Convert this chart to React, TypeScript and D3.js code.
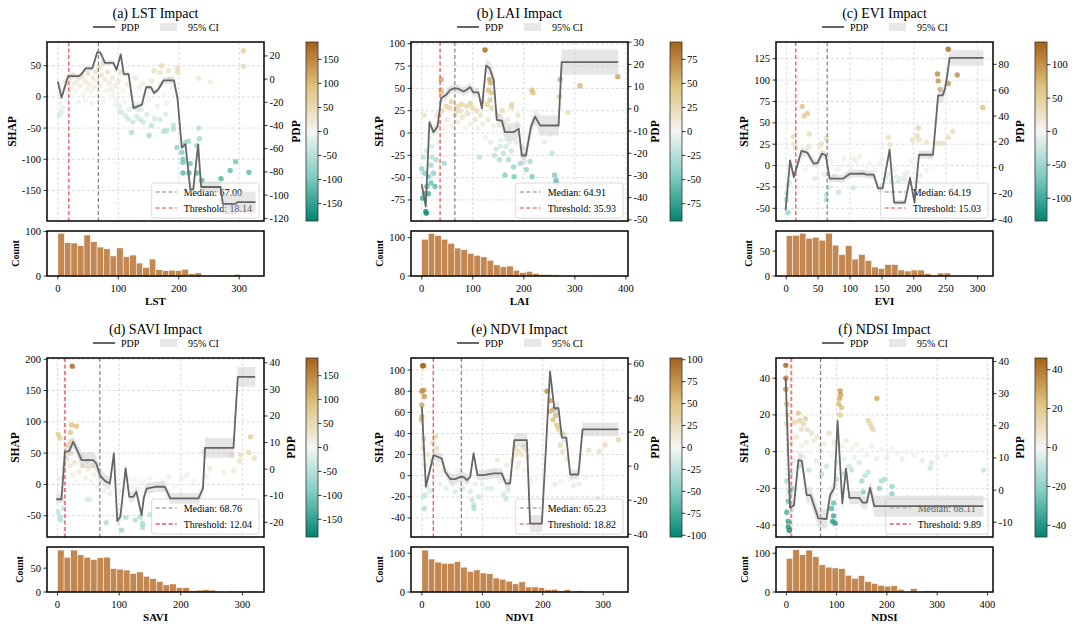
import React from "react";
import * as d3 from "d3";

const FONT = "'Liberation Serif','Times New Roman',Times,serif";
const BRBG = ["#018571", "#80cdc1", "#f5f5f5", "#dfc27d", "#a6611a"];

// ---------------- (a) LST ----------------
const aPdpX = [0, 6, 17, 35, 39, 46, 57, 65, 70, 78, 92, 97, 104, 109, 117, 125, 139, 146, 154, 159, 166, 175, 192, 198, 205, 211, 219, 224, 232, 237, 269, 273, 294, 297, 327];
const aPdpY = [-2, -16, 2.6, 2.6, 4.3, 9.3, 9.3, 23, 23, 14, 14, 8, 21.4, 4.3, 4.3, -25, -22, -7, -7, -12, -9, -1, -1, -17, -59, -56, -95, -95, -56.5, -93, -93, -107.5, -107.5, -106, -106];
const aPdpCI = [2, 2, 2, 2, 2, 2, 2, 2, 2, 2, 2, 2, 2, 2, 2, 2, 2, 2, 2, 2, 2, 3, 3, 3, 3, 3, 3, 3, 4, 5, 5, 9, 9, 9, 9];
const aHist = [96, 75, 74, 68, 92, 77, 65, 61, 45, 63, 43, 47, 29, 19, 38, 14, 12, 13, 12, 15, 5, 7, 0, 0, 1, 2, 0, 4, 0, 0];
const aPoints = [
  [307, 74], [307, 49], [172, 50], [169, 39], [159, 42], [183, 42], [198, 46], [198, 40], [233, 30], [252, 24], [233, -50], [234, -67], [230, -78], [216, -71], [211, -73], [197, -81], [205, -89], [207, -100], [207, -105], [207, -122], [217, -122], [219, -107], [230, -122], [238, -134], [270, -131], [285, -118], [294, -104], [316, -121], [122, -57], [151, -62], [160, -35], [169, -36], [180, -54], [191, -46], [178, -28], [155, -46], [191, -52], [175, -55], [130, -31], [136, -36], [141, -40], [147, -28], [102, -23], [293, 0],
  [0, 5], [3, -10], [5, -25], [8, -18], [10, 12], [12, 25], [15, 20], [18, 8], [20, 30], [22, 15], [25, 35], [28, 22], [30, 10], [33, 28], [36, 18], [40, 32], [42, 5], [45, 25], [48, 12], [50, 38], [52, 20], [55, 8], [58, 30], [60, 15], [62, 40], [65, 25], [68, 48], [70, 18], [72, 35], [75, 55], [78, 28], [80, 10], [82, 40], [85, 22], [88, 12], [90, 30], [92, 5], [95, 18], [97, -5], [100, 25], [102, -15], [104, 40], [106, -25], [108, 10], [110, -8], [112, -30], [115, 20], [118, -20], [120, 5], [125, -15], [128, 30], [130, -10], [135, 15], [138, -20], [140, 22], [145, 5], [150, -5], [155, 25], [160, 10], [165, -15], [170, 20], [175, 5], [180, -10], [185, 28], [190, 15], [195, 5], [210, 0], [2, -30], [6, 0], [14, -5], [24, 0], [34, -8], [46, -5], [56, -10], [66, -3], [76, -8], [86, 0], [96, -12], [116, -35], [124, -40], [132, -20], [142, -10],
];

// ---------------- (b) LAI ----------------
const bPdpX = [0, 8, 15, 23, 31, 38, 48, 56, 65, 72, 82, 88, 95, 101, 111, 118, 126, 133, 141, 147, 157, 163, 180, 190, 196, 204, 214, 222, 232, 268, 274, 385];
const bPdpY = [-34, -44, -6, -10.5, -8, 4.8, 6.3, 8.6, 9.3, 9, 7.8, 8.6, 9.8, 7.4, 7.4, 0.3, 19.5, 18.3, 13, -5, -5.3, -10.5, -10.5, -9, -21, -21, -8, -3.5, -7.5, -7.5, 21, 21];
const bPdpCI = [2, 2, 2, 2, 2, 2, 2, 2, 2, 2, 2, 2, 2, 2, 2, 2, 3, 3, 3, 3, 3, 4, 4, 4, 4, 4, 3, 3, 4.5, 4.5, 5.7, 5.7];
const bHist = [96, 111, 106, 96, 85, 73, 69, 59, 54, 50, 41, 29, 24, 26, 15, 9, 12, 7, 4, 4, 3, 0, 0, 0, 0, 0, 0, 0, 0, 1];
const bPoints = [
  [124, 93], [38, 60], [38, 48], [38, 45], [133, 60], [135, 56], [131, 48], [137, 45], [134, 37], [128, 32], [137, 28], [216, 48], [218, 45], [271, 60], [270, 41], [310, 53], [286, 23], [384, 63], [176, 32], [176, 29], [78, 32], [95, 33], [69, 30],
  [8, -88], [9, -90], [2, -73], [6, -68], [13, -68], [10, -60], [18, -56], [23, -45], [18, -36], [26, -60], [3, -27], [0, -40], [6, -45], [13, -49], [20, -27], [44, -34], [163, -47], [181, -49], [216, -49], [205, -41], [212, -32], [193, -34], [180, -38], [170, -30], [160, -23], [154, -15], [260, -47], [263, -53], [263, -56], [255, -23], [113, -27],
  [30, 20], [35, 10], [40, 25], [45, 5], [50, 15], [55, 28], [60, 8], [65, 20], [70, 12], [75, 25], [80, 18], [85, 5], [90, 22], [95, 10], [100, 28], [105, 15], [110, 5], [115, 20], [120, 10], [125, -5], [130, 15], [135, -10], [140, 8], [145, -18], [150, 0], [155, -8], [160, 12], [165, -15], [170, 5], [175, -20], [180, 0], [185, -10], [190, 8], [195, -15], [200, 2], [210, -5], [230, 0], [250, -2], [20, -15], [25, 5], [15, -5], [10, -20], [5, 20], [28, -30], [35, -10], [48, 30], [58, 35], [68, 25], [88, 30], [108, 25], [118, 35], [148, 20], [158, 25], [168, 15], [188, 20], [142, -25], [152, -30], [172, -10], [198, -25], [220, 10], [240, -10],
];

// ---------------- (c) EVI ----------------
const cPdpX = [-1, 6, 12, 24, 33, 43, 49, 56, 62, 68, 89, 100, 121, 126, 137, 144, 151, 162, 169, 186, 194, 201, 208, 230, 238, 245, 249, 252, 256, 309];
const cPdpY = [-33, 5.7, -7.3, 13, 11.7, 3.1, 3.6, 10.9, 9.6, -8.5, -8.5, -4.7, -4.7, -5.4, -5.4, -16, -16, 14, -27, -27, -8, -27, 10, 10, 56, 56, 61.4, 70.5, 85, 85];
const cPdpCI = [3, 3, 3, 3, 3, 3, 3, 3, 3, 3, 3, 3, 3, 3, 3, 3, 3, 3, 2, 2, 3, 3, 3, 3, 6, 6, 5, 5, 6, 6];
const cHist = [81, 82, 86, 76, 78, 72, 86, 62, 43, 61, 34, 43, 31, 18, 15, 23, 23, 12, 10, 12, 12, 5, 0, 6, 6, 0, 0, 0, 0, 1];
const cPoints = [
  [254, 136], [237, 107], [238, 99], [241, 89], [254, 96], [268, 106], [308, 68], [25, 69], [28, 58], [33, 61], [36, 37], [11, 34], [12, 25], [207, 44], [205, 35], [208, 30], [198, 30], [220, 27], [236, 26], [241, 26], [247, 26], [254, 33], [261, 40], [160, 33], [163, 25], [53, 23], [63, 32], [55, 26],
  [3, -55], [0, -40], [1, -32], [2, -24], [63, -40], [63, -34], [66, -26], [82, -31], [105, -26], [173, -14], [186, -16],
  [10, -10], [20, 5], [30, -5], [40, 10], [50, 0], [60, -10], [70, 5], [80, -5], [90, 8], [100, -3], [110, 5], [120, -8], [130, 3], [140, -5], [150, 8], [160, -10], [170, -5], [180, -15], [190, -8], [200, 0], [210, -12], [220, -5], [15, 20], [35, 22], [45, -15], [55, 15], [75, -12], [95, -10], [115, 10], [135, -12], [155, -15], [175, -20], [195, 5], [225, 10], [230, -2], [5, -20], [25, 12], [65, 12], [85, -2], [105, 8], [125, -2], [145, 2], [165, -18], [185, -10], [205, -20],
];

// ---------------- (d) SAVI ----------------
const dPdpX = [-2, 6.5, 12, 19, 25.5, 35, 39, 58, 63, 69, 77, 85, 91.5, 97, 102, 110.5, 116.5, 123, 128, 136.5, 140, 144.6, 160, 174, 183, 228.6, 236, 239.4, 285.5, 292.5, 320.7];
const dPdpY = [-11.3, -11.3, 6.5, 6.8, 10.3, 5.6, 3.4, 3.4, 2.1, -2.3, -4.4, -5.4, 5.9, -19.5, -17.9, 0.3, -10.4, -10.4, -8.5, -17.3, -10.8, -7.3, -6.6, -6.6, -11, -11, -7.3, 8, 8, 34.7, 34.7];
const dPdpCI = [1.5, 1.5, 2, 2, 2, 3, 3, 3, 3, 2.5, 2.5, 2.5, 2.5, 2, 2, 2, 2, 2, 2, 2, 2, 2, 2, 2, 2, 2, 2, 3.7, 3.7, 3.7, 3.7];
const dHist = [88, 73, 88, 78, 73, 68, 72, 73, 49, 48, 46, 39, 42, 33, 28, 22, 15, 17, 9, 9, 3, 4, 5, 4, 1, 0, 2, 1, 0, 2];
const dPoints = [
  [24, 189], [23, 95], [31, 93], [21, 83], [1, 80], [4, 74], [22, 69], [17, 63], [313, 76], [310, 51], [319, 42], [297, 47], [283, 47], [286, 22], [295, 37], [237, 52], [247, 25], [270, 19], [242, 12], [203, 10],
  [104, -73], [111, -53], [79, -61], [48, -24], [53, -24], [4, -52], [1, -44], [5, -57], [9, -38], [126, -57], [134, -52], [138, -62], [138, -68], [150, -48],
  [5, 10], [10, 25], [15, 40], [20, 30], [25, 15], [28, 35], [30, 5], [35, 20], [40, 30], [45, 10], [50, 25], [55, 5], [60, 15], [65, -5], [70, 10], [75, -10], [80, 5], [85, -15], [90, 0], [95, 8], [100, -10], [105, 2], [110, -5], [115, 10], [120, -3], [125, 8], [130, -8], [135, 2], [140, 5], [145, -5], [150, 10], [160, -2], [170, 5], [180, 12], [190, -3], [200, 8], [210, 15], [220, 5], [2, -15], [8, -25], [12, -10], [18, 0], [22, 50], [38, 45], [48, 38], [58, 30], [68, 22],
];

// ---------------- (e) NDVI ----------------
const ePdpX = [0, 6.6, 19.3, 33, 38.6, 47, 55, 63.4, 69, 74.4, 80, 85.5, 92, 102, 118.5, 132, 139, 146, 153, 173.7, 179, 198.5, 212, 219, 226, 231.6, 239, 245.4, 259, 265.8, 325];
const ePdpY = [35, -12, 6.5, 4.5, -3.3, -7.6, -7.6, -6.3, -6.3, -8.2, -6.3, 7.5, -5.3, -5.3, -4.3, -4.3, -10.2, -10.2, 15.3, 15.3, -33.7, -33.7, 55.5, 34, 34, 16.7, 16.7, -4.9, -4.9, 21.6, 21.6];
const ePdpCI = [3, 3, 3, 3, 3, 3, 3, 3, 3, 3, 3, 3, 3, 3, 3, 3, 3, 3, 4, 4, 5, 5, 5, 4, 4, 3, 3, 3, 3, 4, 4];
const eHist = [108, 85, 77, 74, 74, 78, 64, 53, 57, 49, 47, 36, 33, 28, 21, 26, 13, 13, 11, 6, 7, 3, 6, 2, 3, 0, 0, 0, 0, 1];
const ePoints = [
  [1, 104], [3, 104], [0, 80], [3, 81], [4, 75], [0, 67], [0, 56], [-1, 53], [3, 35], [2, 26], [22, 37], [25, 26], [18, 31], [207, 80], [212, 71], [218, 63], [212, 61], [221, 57], [217, 53], [223, 48], [226, 44], [229, 29], [233, 23], [240, 16], [232, 40], [276, 24], [293, 23], [303, 29], [325, 34], [160, 23], [168, 27], [154, 26],
  [4, -31], [2, -20], [6, -18], [86, -28], [86, -31], [83, -23], [94, -20], [135, -18], [139, -22], [143, -14], [291, -22], [251, -9],
  [5, 10], [8, -10], [10, 20], [12, 0], [15, 15], [20, -5], [25, 10], [30, -8], [35, 5], [40, -12], [45, 2], [50, -8], [55, -15], [60, 5], [65, -10], [70, 0], [75, -5], [80, -15], [90, 0], [100, -8], [110, 3], [115, -12], [120, 5], [125, 15], [130, -5], [140, 10], [150, 15], [155, 20], [160, 12], [165, 20], [170, 5], [175, 18], [180, -5], [190, -2], [200, 0], [220, -8], [230, -5], [245, -3], [260, -8], [270, -2], [14, -14], [28, 3], [48, -3], [68, -12], [88, -8], [108, -12], [158, 8], [172, 24],
];

// ---------------- (f) NDSI ----------------
const fPdpX = [-1.3, 7.3, 15.3, 24, 31, 40.5, 48.4, 55, 63.7, 80, 87, 95.5, 102, 111.4, 118.7, 125.4, 145, 152, 160, 166.5, 175, 392];
const fPdpY = [35, -5.5, -4.7, 9.3, 9.1, -1.6, -1.6, -4.7, -8.8, -9, -1.6, 0.7, 21.5, -4.1, 6.7, -2.4, -2.4, -3.9, -3.9, 0.7, -5, -5];
const fPdpCI = [2, 2, 2, 2.5, 2.5, 2.5, 2.5, 3, 3, 3, 2, 2, 2, 2, 2, 2, 2, 2, 2, 2, 3.3, 3.3];
const fHist = [87, 109, 96, 108, 91, 70, 64, 62, 60, 43, 35, 42, 27, 22, 17, 15, 16, 7, 0, 9, 0, 3, 3, 0, 0, 0, 0, 0, 0, 1];
const fPoints = [
  [-1, 47], [-1, 40], [-1, 34], [1, 26], [2, 20], [1, 15], [180, 29], [107, 33], [108, 31], [106, 29], [104, 26], [110, 24], [107, 20], [163, 17], [167, 15], [170, 13], [173, 12], [24, 21], [27, 17], [34, 15], [42, 12], [17, 16],
  [4, -38], [4, -41], [6, -43], [1, -33], [4, -27], [7, -22], [1, -16], [94, -35], [92, -38], [97, -39], [90, -31], [94, -28], [150, -16], [157, -13], [163, -11], [185, -20], [189, -16], [196, -15], [210, -19], [210, -23], [153, -22], [286, -9], [289, -6], [392, -10], [316, -2], [249, 0],
  [10, 5], [15, -5], [20, 8], [25, -8], [30, 3], [35, -3], [40, 5], [45, -10], [50, 0], [55, 6], [60, -5], [65, 2], [70, -12], [75, 4], [80, -8], [85, 10], [90, -2], [95, 5], [100, -6], [110, 3], [115, -4], [120, 6], [125, -8], [130, 2], [135, -3], [140, 4], [145, -6], [150, 1], [160, -2], [170, 3], [180, -4], [190, 1], [200, -3], [210, 2], [220, -1], [230, -4], [240, 0], [255, -2], [270, -5], [300, -3], [30, 12], [38, 18], [50, 10], [62, 8], [8, -12], [12, -20], [100, -15], [115, -12], [130, -10],
];

const panels = [
  { title: "(a) LST Impact", name: "LST", median: 67.0, threshold: 18.14, thW: 1.2, xDomain: [-18, 341], shapDomain: [-199, 88], pdpDomain: [-122.3, 32], cbMax: 186, histMax: 101, binW: 10.8,
    xTicks: [0, 100, 200, 300], shapTicks: [-150, -100, -50, 0, 50], pdpTicks: [-120, -100, -80, -60, -40, -20, 0, 20], cbTicks: [-150, -100, -50, 0, 50, 100, 150], histTicks: [0, 100],
    pdpX: aPdpX, pdpY: aPdpY, pdpCI: aPdpCI, hist: aHist, points: aPoints },
  { title: "(b) LAI Impact", name: "LAI", median: 64.91, threshold: 35.93, thW: 1.2, xDomain: [-21, 404], shapDomain: [-98.6, 102], pdpDomain: [-50.5, 30.1], cbMax: 93, histMax: 117.6, binW: 12.8,
    xTicks: [0, 100, 200, 300, 400], shapTicks: [-75, -50, -25, 0, 25, 50, 75, 100], pdpTicks: [-50, -40, -30, -20, -10, 0, 10, 20, 30], cbTicks: [-75, -50, -25, 0, 25, 50, 75], histTicks: [0, 100],
    pdpX: bPdpX, pdpY: bPdpY, pdpCI: bPdpCI, hist: bHist, points: bPoints },
  { title: "(c) EVI Impact", name: "EVI", median: 64.19, threshold: 15.03, thW: 1.2, xDomain: [-16, 324], shapDomain: [-64.8, 144.5], pdpDomain: [-41.3, 97.3], cbMax: 134, histMax: 90.5, binW: 10.3,
    xTicks: [0, 50, 100, 150, 200, 250, 300], shapTicks: [-50, -25, 0, 25, 50, 75, 100, 125], pdpTicks: [-40, -20, 0, 20, 40, 60, 80], cbTicks: [-100, -50, 0, 50, 100], histTicks: [0, 50],
    pdpX: cPdpX, pdpY: cPdpY, pdpCI: cPdpCI, hist: cHist, points: cPoints },
  { title: "(d) SAVI Impact", name: "SAVI", median: 68.76, threshold: 12.04, thW: 2, xDomain: [-17, 335], shapDomain: [-84, 202], pdpDomain: [-25.5, 41.8], cbMax: 187, histMax: 94.4, binW: 10.7,
    xTicks: [0, 100, 200, 300], shapTicks: [-50, 0, 50, 100, 150, 200], pdpTicks: [-20, -10, 0, 10, 20, 30, 40], cbTicks: [-150, -100, -50, 0, 50, 100, 150], histTicks: [0, 50],
    pdpX: dPdpX, pdpY: dPdpY, pdpCI: dPdpCI, hist: dHist, points: dPoints },
  { title: "(e) NDVI Impact", name: "NDVI", median: 65.23, threshold: 18.82, thW: 1.2, xDomain: [-18, 341], shapDomain: [-58, 111.4], pdpDomain: [-41.6, 63.5], cbMax: 102, histMax: 116, binW: 10.7,
    xTicks: [0, 100, 200, 300], shapTicks: [-40, -20, 0, 20, 40, 60, 80, 100], pdpTicks: [-40, -20, 0, 20, 40, 60], cbTicks: [-100, -75, -50, -25, 0, 25, 50, 75, 100], histTicks: [0, 100],
    pdpX: ePdpX, pdpY: ePdpY, pdpCI: ePdpCI, hist: eHist, points: ePoints },
  { title: "(f) NDSI Impact", name: "NDSI", median: 68.11, threshold: 9.89, thW: 2, xDomain: [-20.5, 411], shapDomain: [-46.5, 51], pdpDomain: [-14.6, 41.1], cbMax: 46, histMax: 116, binW: 13,
    xTicks: [0, 100, 200, 300, 400], shapTicks: [-40, -20, 0, 20, 40], pdpTicks: [-10, 0, 10, 20, 30, 40], cbTicks: [-40, -20, 0, 20, 40], histTicks: [0, 100],
    pdpX: fPdpX, pdpY: fPdpY, pdpCI: fPdpCI, hist: fHist, points: fPoints },
];

const COLS = [47, 411, 776];
const ROWS = [42, 358];
const AX_W = 217, AX_H = 179, HIST_H = 45, CB_DX = 259, CB_W = 12;

let measureCtx: CanvasRenderingContext2D | null = null;
function textW(s: string, size: number, bold = false) {
  if (!measureCtx && typeof document !== "undefined") measureCtx = document.createElement("canvas").getContext("2d");
  if (!measureCtx) return s.length * size * 0.5;
  measureCtx.font = `${bold ? "bold " : ""}${size}px 'Liberation Serif'`;
  return measureCtx.measureText(s).width;
}
const fmt = (v: number) => String(v);

function Panel({ p, i }: { p: any; i: number }) {
  const left = COLS[i % 3], top = ROWS[Math.floor(i / 3)];
  const right = left + AX_W, bottom = top + AX_H;
  const cx = (left + right) / 2;
  const x = d3.scaleLinear().domain(p.xDomain).range([left, right]);
  const yS = d3.scaleLinear().domain(p.shapDomain).range([bottom, top]);
  const yP = d3.scaleLinear().domain(p.pdpDomain).range([bottom, top]);
  const hTop = bottom + 10, hBot = hTop + HIST_H;
  const yH = d3.scaleLinear().domain([0, p.histMax]).range([hBot, hTop]);
  const cbL = left + CB_DX, cbR = cbL + CB_W;
  const m = p.cbMax;
  const yC = d3.scaleLinear().domain([-m, m]).range([bottom, top]);
  const color = d3.scaleLinear<string>().domain([-m, -m / 2, 0, m / 2, m]).range(BRBG).interpolate(d3.interpolateRgb).clamp(true);
  const pdp = p.pdpX.map((v: number, k: number) => ({ x: v, y: p.pdpY[k], ci: p.pdpCI[k] }));
  const line = d3.line<any>().x((d) => x(d.x)).y((d) => yP(d.y));
  const area = d3.area<any>().x((d) => x(d.x)).y0((d) => yP(d.y - d.ci)).y1((d) => yP(d.y + d.ci));
  const pts = [...p.points].sort((a: number[], b: number[]) => Math.abs(a[1]) - Math.abs(b[1]));
  const clipId = `clipM${i}`, clipH = `clipH${i}`, gradId = `grad${i}`;

  const medLabel = `Median: ${p.median.toFixed(2)}`;
  const thLabel = `Threshold: ${p.threshold.toFixed(2)}`;
  const lgW = 34 + Math.max(textW(medLabel, 10), textW(thLabel, 10)) + 5;
  const lgH = 35;
  const lgR = right - 5, lgB = bottom - 3;
  const lgL = lgR - lgW, lgT = lgB - lgH;

  const shapLen = Math.max(...p.shapTicks.map((t: number) => fmt(t).length));
  const pdpLen = Math.max(...p.pdpTicks.map((t: number) => fmt(t).length));
  const histLen = Math.max(...p.histTicks.map((t: number) => fmt(t).length));

  const TICK = 3.5;
  return (
    <g fontFamily={FONT}>
      <defs>
        <clipPath id={clipId}><rect x={left} y={top} width={AX_W} height={AX_H} /></clipPath>
        <clipPath id={clipH}><rect x={left} y={hTop} width={AX_W} height={HIST_H} /></clipPath>
        <linearGradient id={gradId} x1="0" y1="1" x2="0" y2="0">
          {BRBG.map((c, k) => <stop key={k} offset={`${k * 25}%`} stopColor={c} />)}
        </linearGradient>
      </defs>

      {/* title + top legend */}
      <text x={cx} y={top - 24} textAnchor="middle" fontSize={14}>{p.title}</text>
      <line x1={cx - 62.5} x2={cx - 40.5} y1={top - 15} y2={top - 15} stroke="#666" strokeWidth={2} />
      <text x={cx - 34.5} y={top - 15} dominantBaseline="central" fontSize={10}>PDP</text>
      <rect x={cx + 4.5} y={top - 19} width={17} height={8} fill="#d3d3d3" fillOpacity={0.55} />
      <text x={cx + 32.5} y={top - 15} dominantBaseline="central" fontSize={10}>95% CI</text>

      {/* main axes */}
      <g clipPath={`url(#${clipId})`}>
        {p.shapTicks.map((t: number) => (
          <line key={`gy${t}`} x1={left} x2={right} y1={yS(t)} y2={yS(t)} stroke="#cfcfcf" strokeWidth={0.7} strokeDasharray="3,2" />
        ))}
        {p.xTicks.map((t: number) => (
          <line key={`gx${t}`} x1={x(t)} x2={x(t)} y1={top} y2={bottom} stroke="#cfcfcf" strokeWidth={0.7} strokeDasharray="3,2" />
        ))}
        {pts.map((d: number[], k: number) => (
          <circle key={k} cx={x(d[0])} cy={yS(d[1])} r={2.7} fill={color(d[1])} fillOpacity={0.8} />
        ))}
        <line x1={x(p.median)} x2={x(p.median)} y1={top} y2={bottom} stroke="#808080" strokeWidth={1.2} strokeDasharray="4,2.5" />
        <line x1={x(p.threshold)} x2={x(p.threshold)} y1={top} y2={bottom} stroke="#e8474a" strokeOpacity={p.thW > 1.5 ? 0.7 : 1} strokeWidth={p.thW} strokeDasharray="4,2.5" />
        {/* inner legend */}
        <rect x={lgL} y={lgT} width={lgW} height={lgH} rx={2} fill="#fff" fillOpacity={0.8} stroke="#d0d0d0" strokeWidth={0.8} />
        <line x1={lgL + 4} x2={lgL + 25} y1={lgT + 9} y2={lgT + 9} stroke="#808080" strokeWidth={1.2} strokeDasharray="4,2.5" />
        <text x={lgL + 32} y={lgT + 9} dominantBaseline="central" fontSize={10}>{medLabel}</text>
        <line x1={lgL + 4} x2={lgL + 25} y1={lgT + 25} y2={lgT + 25} stroke="#e8474a" strokeOpacity={p.thW > 1.5 ? 0.7 : 1} strokeWidth={p.thW} strokeDasharray="4,2.5" />
        <text x={lgL + 32} y={lgT + 25} dominantBaseline="central" fontSize={10}>{thLabel}</text>
        {/* twin axis: CI + PDP */}
        <path d={area(pdp) || ""} fill="#c8c8c8" fillOpacity={0.45} />
        <path d={line(pdp) || ""} fill="none" stroke="#666" strokeWidth={1.8} strokeLinejoin="round" />
      </g>
      <rect x={left} y={top} width={AX_W} height={AX_H} fill="none" stroke="#000" strokeWidth={1.5} />

      {/* left SHAP axis */}
      {p.shapTicks.map((t: number) => (
        <g key={`sy${t}`}>
          <line x1={left - TICK} x2={left} y1={yS(t)} y2={yS(t)} stroke="#000" strokeWidth={0.8} />
          <text x={left - 6} y={yS(t)} textAnchor="end" dominantBaseline="central" fontSize={10.5}>{fmt(t)}</text>
        </g>
      ))}
      <text transform={`translate(${left - 23 - shapLen * 3},${(top + bottom) / 2}) rotate(-90)`} textAnchor="middle" dominantBaseline="central" fontSize={11.5} fontWeight="bold">SHAP</text>

      {/* right PDP axis */}
      {p.pdpTicks.map((t: number) => (
        <g key={`py${t}`}>
          <line x1={right} x2={right + TICK} y1={yP(t)} y2={yP(t)} stroke="#000" strokeWidth={0.8} />
          <text x={right + 5.5} y={yP(t)} dominantBaseline="central" fontSize={10.5}>{fmt(t)}</text>
        </g>
      ))}
      <text transform={`translate(${right + 12 + pdpLen * 5},${(top + bottom) / 2}) rotate(-90)`} textAnchor="middle" dominantBaseline="central" fontSize={11.5} fontWeight="bold">PDP</text>

      {/* colorbar */}
      <rect x={cbL} y={top} width={CB_W} height={AX_H} fill={`url(#${gradId})`} stroke="#333" strokeWidth={0.8} />
      {p.cbTicks.map((t: number) => (
        <g key={`cb${t}`}>
          <line x1={cbR} x2={cbR + TICK} y1={yC(t)} y2={yC(t)} stroke="#000" strokeWidth={0.8} />
          <text x={cbR + 5} y={yC(t)} dominantBaseline="central" fontSize={10.5}>{fmt(t)}</text>
        </g>
      ))}

      {/* histogram */}
      <g clipPath={`url(#${clipH})`}>
        {p.hist.map((c: number, k: number) =>
          c > 0 ? (
            <rect key={k} x={x(k * p.binW)} y={yH(c)} width={x((k + 1) * p.binW) - x(k * p.binW)} height={hBot - yH(c)} fill="#b87333" fillOpacity={0.85} stroke="#fff" strokeWidth={0.5} />
          ) : null
        )}
      </g>
      <rect x={left} y={hTop} width={AX_W} height={HIST_H} fill="none" stroke="#000" strokeWidth={1.5} />
      {p.histTicks.map((t: number) => (
        <g key={`hy${t}`}>
          <line x1={left - TICK} x2={left} y1={yH(t)} y2={yH(t)} stroke="#000" strokeWidth={0.8} />
          <text x={left - 6} y={yH(t)} textAnchor="end" dominantBaseline="central" fontSize={10.5}>{fmt(t)}</text>
        </g>
      ))}
      <text transform={`translate(${left - 20 - histLen * 4},${(hTop + hBot) / 2}) rotate(-90)`} textAnchor="middle" dominantBaseline="central" fontSize={10} fontWeight="bold">Count</text>
      {p.xTicks.map((t: number) => (
        <g key={`hx${t}`}>
          <line x1={x(t)} x2={x(t)} y1={hBot} y2={hBot + TICK} stroke="#000" strokeWidth={0.8} />
          <text x={x(t)} y={hBot + 15.5} textAnchor="middle" fontSize={10.5}>{fmt(t)}</text>
        </g>
      ))}
      <text x={cx} y={hBot + 29} textAnchor="middle" fontSize={11} fontWeight="bold">{p.name}</text>
    </g>
  );
}

export default function App() {
  return (
    <div style={{ position: "absolute", left: 0, top: 0, width: 1080, height: 631, background: "#fff" }}>
      <svg width={1080} height={631} viewBox="0 0 1080 631" style={{ display: "block" }}>
        <rect x={0} y={0} width={1080} height={631} fill="#fff" />
        {panels.map((p, i) => <Panel key={i} p={p} i={i} />)}
      </svg>
    </div>
  );
}
